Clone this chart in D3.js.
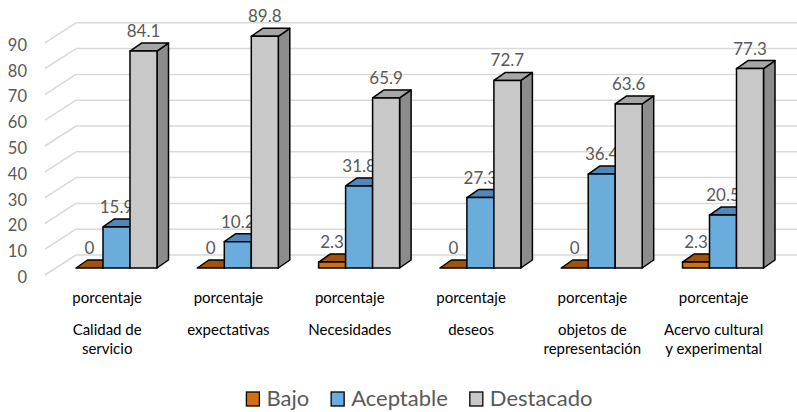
<!DOCTYPE html>
<html>
<head>
<meta charset="utf-8">
<script src="https://cdn.jsdelivr.net/npm/d3@7"></script>
<style>
  html, body { margin: 0; padding: 0; background: #fff; }
  svg { display: block; font-family: Lato, "Open Sans", sans-serif; }
</style>
</head>
<body>
<svg id="chart" width="797" height="412"></svg>
<script>
// Data
const categories = [
  ["porcentaje", "Calidad de", "servicio"],
  ["porcentaje", "expectativas"],
  ["porcentaje", "Necesidades"],
  ["porcentaje", "deseos"],
  ["porcentaje", "objetos de", "representación"],
  ["porcentaje", "Acervo cultural", "y experimental"]
];
const seriesNames = ["Bajo", "Aceptable", "Destacado"];
const bajo      = [0, 0, 2.3, 0, 0, 2.3];
const aceptable = [15.9, 10.2, 31.8, 27.3, 36.4, 20.5];
const destacado = [84.1, 89.8, 65.9, 72.7, 63.6, 77.3];
const yTicks = [0, 10, 20, 30, 40, 50, 60, 70, 80, 90];

const seriesValues = [bajo, aceptable, destacado];
const palette = [
  { front: "#D06F16", top: "#A3520D", side: "#8E460B" },
  { front: "#6AADDC", top: "#5087B8", side: "#3F6E98" },
  { front: "#C8C8C8", top: "#A6A6A6", side: "#8C8C8C" }
];

const svg = d3.select("#chart");

// Oblique 3D layout: front plane, bar plane and back wall
const front = { x: 45, y: 275 };
const barShift = { dx: 11, dy: -7 };
const barDepth = { dx: 11.5, dy: -8 };
const wallShift = { dx: 31, dy: -20 };
const step = 121.3;

const x = d3.scaleBand()
  .domain(d3.range(categories.length))
  .range([front.x, front.x + step * categories.length])
  .paddingInner(0).paddingOuter(0);

const inner = d3.scaleBand()
  .domain(d3.range(seriesNames.length))
  .range([20, 20 + 81]);

// height in pixels above the baseline
const h = d3.scaleLinear().domain([0, 90]).range([0, 232.2]);

const grid = svg.append("g")
  .attr("stroke", "#D9D9D9")
  .attr("stroke-width", 1.5)
  .attr("fill", "none");

yTicks.forEach(v => {
  const yb = front.y + wallShift.dy - h(v);
  const yf = front.y - h(v);
  // side wall
  grid.append("line")
    .attr("x1", front.x).attr("y1", yf)
    .attr("x2", front.x + wallShift.dx).attr("y2", yb);
  // back wall
  grid.append("line")
    .attr("x1", front.x + wallShift.dx).attr("y1", yb)
    .attr("x2", 800).attr("y2", yb);
});

// Y axis labels
svg.append("g")
  .selectAll("text")
  .data(yTicks)
  .join("text")
  .attr("x", 27)
  .attr("y", d => front.y - h(d) + 2)
  .attr("text-anchor", "end")
  .attr("dominant-baseline", "central")
  .attr("font-size", 16.5)
  .attr("fill", "#595959")
  .text(d => d);

// Bars, each followed by its value label
const bars = svg.append("g");
categories.forEach((cat, i) => {
  seriesValues.forEach((vals, j) => {
    const v = vals[i];
    const x0 = x(i) + barShift.dx + inner(j);
    const w = inner.bandwidth();
    const yBase = front.y + barShift.dy;
    const yTop = yBase - h(v);
    const dx = barDepth.dx, dy = barDepth.dy;
    const c = palette[j];
    const g = bars.append("g")
      .attr("stroke", "#000")
      .attr("stroke-width", 1.5)
      .attr("stroke-linejoin", "round");
    g.append("polygon")
      .attr("points", [[x0 + w, yTop], [x0 + w, yBase], [x0 + w + dx, yBase + dy], [x0 + w + dx, yTop + dy]].join(" "))
      .attr("fill", c.side);
    g.append("polygon")
      .attr("points", [[x0, yTop], [x0 + w, yTop], [x0 + w + dx, yTop + dy], [x0 + dx, yTop + dy]].join(" "))
      .attr("fill", c.top);
    if (v > 0) {
      g.append("rect")
        .attr("x", x0).attr("y", yTop)
        .attr("width", w).attr("height", yBase - yTop)
        .attr("fill", c.front);
    }
    bars.append("text")
      .attr("x", x0 + w / 2)
      .attr("y", yTop + dy - 6)
      .attr("text-anchor", "middle")
      .attr("font-size", 17)
      .attr("fill", "#595959")
      .text(v);
  });
});

// Category labels
const catG = svg.append("g");
categories.forEach((lines, i) => {
  const cx = x(i) + x.bandwidth() / 2 + 1.5;
  lines.forEach((t, k) => {
    catG.append("text")
      .attr("x", cx)
      .attr("y", k === 0 ? 303 : 335 + (k - 1) * 19)
      .attr("text-anchor", "middle")
      .attr("font-size", 15)
      .attr("fill", "#000")
      .text(t);
  });
});

// Legend
const legend = svg.append("g");
let cursor = 0;
seriesNames.forEach((name, j) => {
  const it = legend.append("g");
  it.append("rect")
    .attr("x", 0).attr("y", -14)
    .attr("width", 13).attr("height", 14)
    .attr("fill", palette[j].front)
    .attr("stroke", "#000").attr("stroke-width", 1.3);
  const t = it.append("text")
    .attr("x", 20).attr("y", 0)
    .attr("font-size", 22)
    .attr("fill", "#595959")
    .text(name);
  const tw = t.node().getComputedTextLength();
  it.attr("transform", `translate(${cursor},406)`);
  cursor += 20 + tw + 22;
});
const legendWidth = cursor - 22;
legend.attr("transform", `translate(${419.5 - legendWidth / 2},0)`);
</script>
</body>
</html>
